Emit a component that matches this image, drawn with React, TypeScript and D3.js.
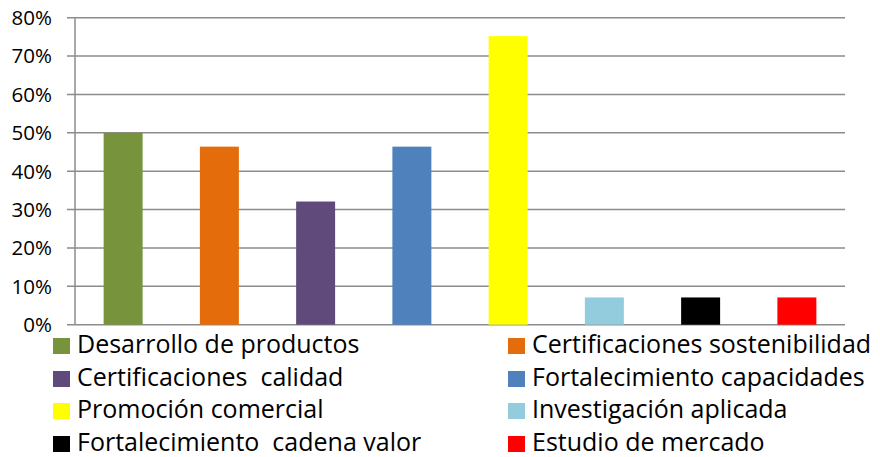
import React from "react";
import * as d3 from "d3";

const categories = [
  "Desarrollo de productos",
  "Certificaciones sostenibilidad",
  "Certificaciones  calidad",
  "Fortalecimiento capacidades",
  "Promoción comercial",
  "Investigación aplicada",
  "Fortalecimiento  cadena valor",
  "Estudio de mercado",
];
const values = [0.5, 0.464, 0.321, 0.464, 0.752, 0.071, 0.071, 0.071];
const colors = ["#77933c", "#e46c0a", "#604a7b", "#4f81bd", "#ffff00", "#93cddd", "#000000", "#ff0000"];
const yTicks = [0, 0.1, 0.2, 0.3, 0.4, 0.5, 0.6, 0.7, 0.8];

const W = 880;
const H = 457;
const FONT = "'Open Sans', Lato, sans-serif";

export default function App() {
  const x = d3
    .scaleBand<string>()
    .domain(categories)
    .range([75, 845])
    .paddingInner(0.595)
    .paddingOuter(0.2975);
  const y = d3.scaleLinear().domain([0, 0.8]).range([324.7, 17.7]);
  const fmt = d3.format(".0%");

  const legendCols = [53, 508];
  const legendBaselines = [353, 386, 418, 451];

  return (
    <svg
      width={W}
      height={H}
      style={{ position: "absolute", left: 0, top: 0, background: "#fff" }}
      fontFamily={FONT}
    >
      <rect width={W} height={H} fill="#fff" />
      {yTicks.map((t) => (
        <g key={t}>
          <line x1={67} x2={845} y1={y(t)} y2={y(t)} stroke="#8c8c8c" strokeWidth={1.5} />
          <text x={52} y={y(t)} dy="0.36em" textAnchor="end" fontSize={20.5} fill="#000">
            {fmt(t)}
          </text>
        </g>
      ))}
      <line x1={75} x2={75} y1={y(0.8)} y2={y(0)} stroke="#8c8c8c" strokeWidth={1.5} />
      {categories.map((c, i) => (
        <rect
          key={c}
          x={x(c)}
          y={y(values[i])}
          width={x.bandwidth()}
          height={y(0) - y(values[i])}
          fill={colors[i]}
        />
      ))}
      {categories.map((c, i) => {
        const col = i % 2;
        const row = Math.floor(i / 2);
        const lx = legendCols[col];
        const by = legendBaselines[row];
        return (
          <g key={"lg" + c}>
            <rect x={lx} y={by - 15} width={17} height={16} fill={colors[i]} />
            <text x={lx + 24} y={by} fontSize={25} fill="#000" style={{ whiteSpace: "pre" }}>
              {c}
            </text>
          </g>
        );
      })}
    </svg>
  );
}
